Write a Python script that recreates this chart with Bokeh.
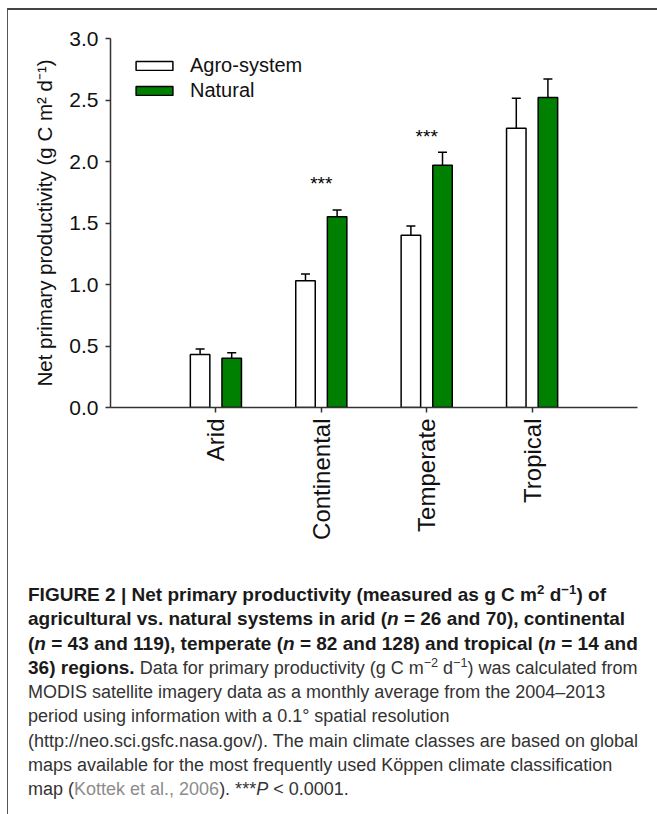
import math
from bokeh.plotting import figure
from bokeh.models import (ColumnDataSource, FactorRange, Whisker, Legend, LegendItem,
                          Div, NumeralTickFormatter, FixedTicker)
from bokeh.transform import dodge
from bokeh.layouts import column
from bokeh.embed import file_html
from bokeh.resources import INLINE
from bokeh.core.properties import value

# ---------------- data ----------------
categories = ["Arid", "Continental", "Temperate", "Tropical"]
agro = [0.43, 1.03, 1.40, 2.27]
agro_err = [0.045, 0.055, 0.075, 0.245]
natural = [0.40, 1.55, 1.97, 2.52]
natural_err = [0.045, 0.055, 0.105, 0.15]
sig_labels = ["", "***", "***", ""]
sig_y = [0.0, 1.82, 2.20, 0.0]
y_ticks = [0.0, 0.5, 1.0, 1.5, 2.0, 2.5, 3.0]
series_names = ["Agro-system", "Natural"]
y_label = "Net primary productivity (g C m\u00b2 d\u207b\u00b9)"

FONT = "Liberation Sans"

src = ColumnDataSource(dict(
    cat=categories,
    agro=agro,
    agro_lo=[v - e for v, e in zip(agro, agro_err)],
    agro_hi=[v + e for v, e in zip(agro, agro_err)],
    nat=natural,
    nat_lo=[v - e for v, e in zip(natural, natural_err)],
    nat_hi=[v + e for v, e in zip(natural, natural_err)],
    sig=sig_labels,
    sig_y=sig_y,
))

p = figure(
    x_range=FactorRange(*categories, range_padding=0.5, range_padding_units="absolute"),
    y_range=(0, 3),
    width=641, height=550,
    output_backend="svg", toolbar_location=None,
    min_border_left=102, min_border_right=12, min_border_top=28, min_border_bottom=153,
    background_fill_color="white", border_fill_color="white",
)
p.outline_line_color = None
p.xgrid.grid_line_color = None
p.ygrid.grid_line_color = None

off = 0.15
bw = 0.185
r_agro = p.vbar(x=dodge("cat", -off, range=p.x_range), top="agro", width=bw, source=src,
                fill_color="white", line_color="black", line_width=1.5)
r_nat = p.vbar(x=dodge("cat", off, range=p.x_range), top="nat", width=bw, source=src,
               fill_color="#008000", line_color="black", line_width=1.5)

for base, lo, hi in [(dodge("cat", -off, range=p.x_range), "agro_lo", "agro_hi"),
                     (dodge("cat", off, range=p.x_range), "nat_lo", "nat_hi")]:
    w = Whisker(base=base, lower=lo, upper=hi, source=src,
                line_color="black", line_width=1.5)
    for head in (w.upper_head, w.lower_head):
        head.size = 9
        head.line_width = 1.5
        head.line_color = "black"
    p.add_layout(w)

p.text(x="cat", y="sig_y", text="sig", source=src, text_align="center",
       text_baseline="middle", text_font_size="19px", text_font=value(FONT),
       text_color="black")

legend = Legend(items=[LegendItem(label=series_names[0], renderers=[r_agro]),
                       LegendItem(label=series_names[1], renderers=[r_nat])],
                location=(21, 305))
legend.glyph_width = 46
legend.glyph_height = 11
legend.label_standoff = 13
legend.spacing = 2
legend.padding = 0
legend.margin = 0
legend.border_line_color = None
legend.background_fill_alpha = 0
legend.label_text_font = FONT
legend.label_text_font_size = "20px"
legend.label_text_color = "#111"
p.add_layout(legend)

# axes
p.yaxis.ticker = FixedTicker(ticks=y_ticks)
p.yaxis.formatter = NumeralTickFormatter(format="0.0")
p.yaxis.axis_label = y_label
p.yaxis.axis_label_text_font = FONT
p.yaxis.axis_label_text_font_size = "20.5px"
p.yaxis.axis_label_text_font_style = "normal"
p.yaxis.axis_label_text_color = "#111"
p.yaxis.axis_label_standoff = 10
p.yaxis.major_label_text_font = FONT
p.yaxis.major_label_text_font_size = "21px"
p.yaxis.major_label_text_color = "#111"
p.yaxis.major_label_standoff = 7
p.yaxis.minor_tick_line_color = None

p.xaxis.major_label_orientation = math.pi / 2
p.xaxis.major_label_text_font = FONT
p.xaxis.major_label_text_font_size = "24px"
p.xaxis.major_label_text_color = "#111"
p.xaxis.major_label_standoff = 6

for ax in (p.xaxis, p.yaxis):
    ax.axis_line_width = 1.5
    ax.axis_line_color = "#333"
    ax.major_tick_line_color = "#333"
    ax.major_tick_line_width = 1.5
    ax.major_tick_in = 0
    ax.major_tick_out = 5

SUP = "<sup style='line-height:0;font-size:70%'>"
B = "<b style='font-size:19px;color:#1a1a1a'>"
caption_lines = [
    B + "FIGURE 2 | Net primary productivity (measured as g C m" + SUP + "2</sup> d" + SUP + "\u22121</sup>) of</b>",
    B + "agricultural vs. natural systems in arid (<i>n</i> = 26 and 70), continental</b>",
    B + "(<i>n</i> = 43 and 119), temperate (<i>n</i> = 82 and 128) and tropical (<i>n</i> = 14 and</b>",
    B + "36) regions.</b> Data for primary productivity (g C m" + SUP + "\u22122</sup> d" + SUP + "\u22121</sup>) was calculated from",
    "MODIS satellite imagery data as a monthly average from the 2004\u20132013",
    "period using information with a 0.1\u00b0 spatial resolution",
    "(http://neo.sci.gsfc.nasa.gov/). The main climate classes are based on global",
    "maps available for the most frequently used K\u00f6ppen climate classification",
    "map (<span style='color:#8c8c8c'>Kottek et al., 2006</span>). ***<i>P</i> &lt; 0.0001.",
]
caption_html = (
    "<div style=\"font-family:'Liberation Sans',Arial,sans-serif;font-size:18px;"
    "line-height:24.3px;color:#333;white-space:nowrap;margin:0;padding:18px 0 0 15px;\">"
    + "<br>".join(caption_lines)
    + "</div>"
)
caption = Div(text=caption_html, width=641, height=244)

layout = column(p, caption, spacing=0,
                styles={"margin-left": "7px", "margin-top": "8px",
                        "padding-right": "8px",
                        "border-top": "2px solid #444",
                        "border-left": "1px solid #555"})

open("out.html", "w").write(file_html(layout, INLINE))
